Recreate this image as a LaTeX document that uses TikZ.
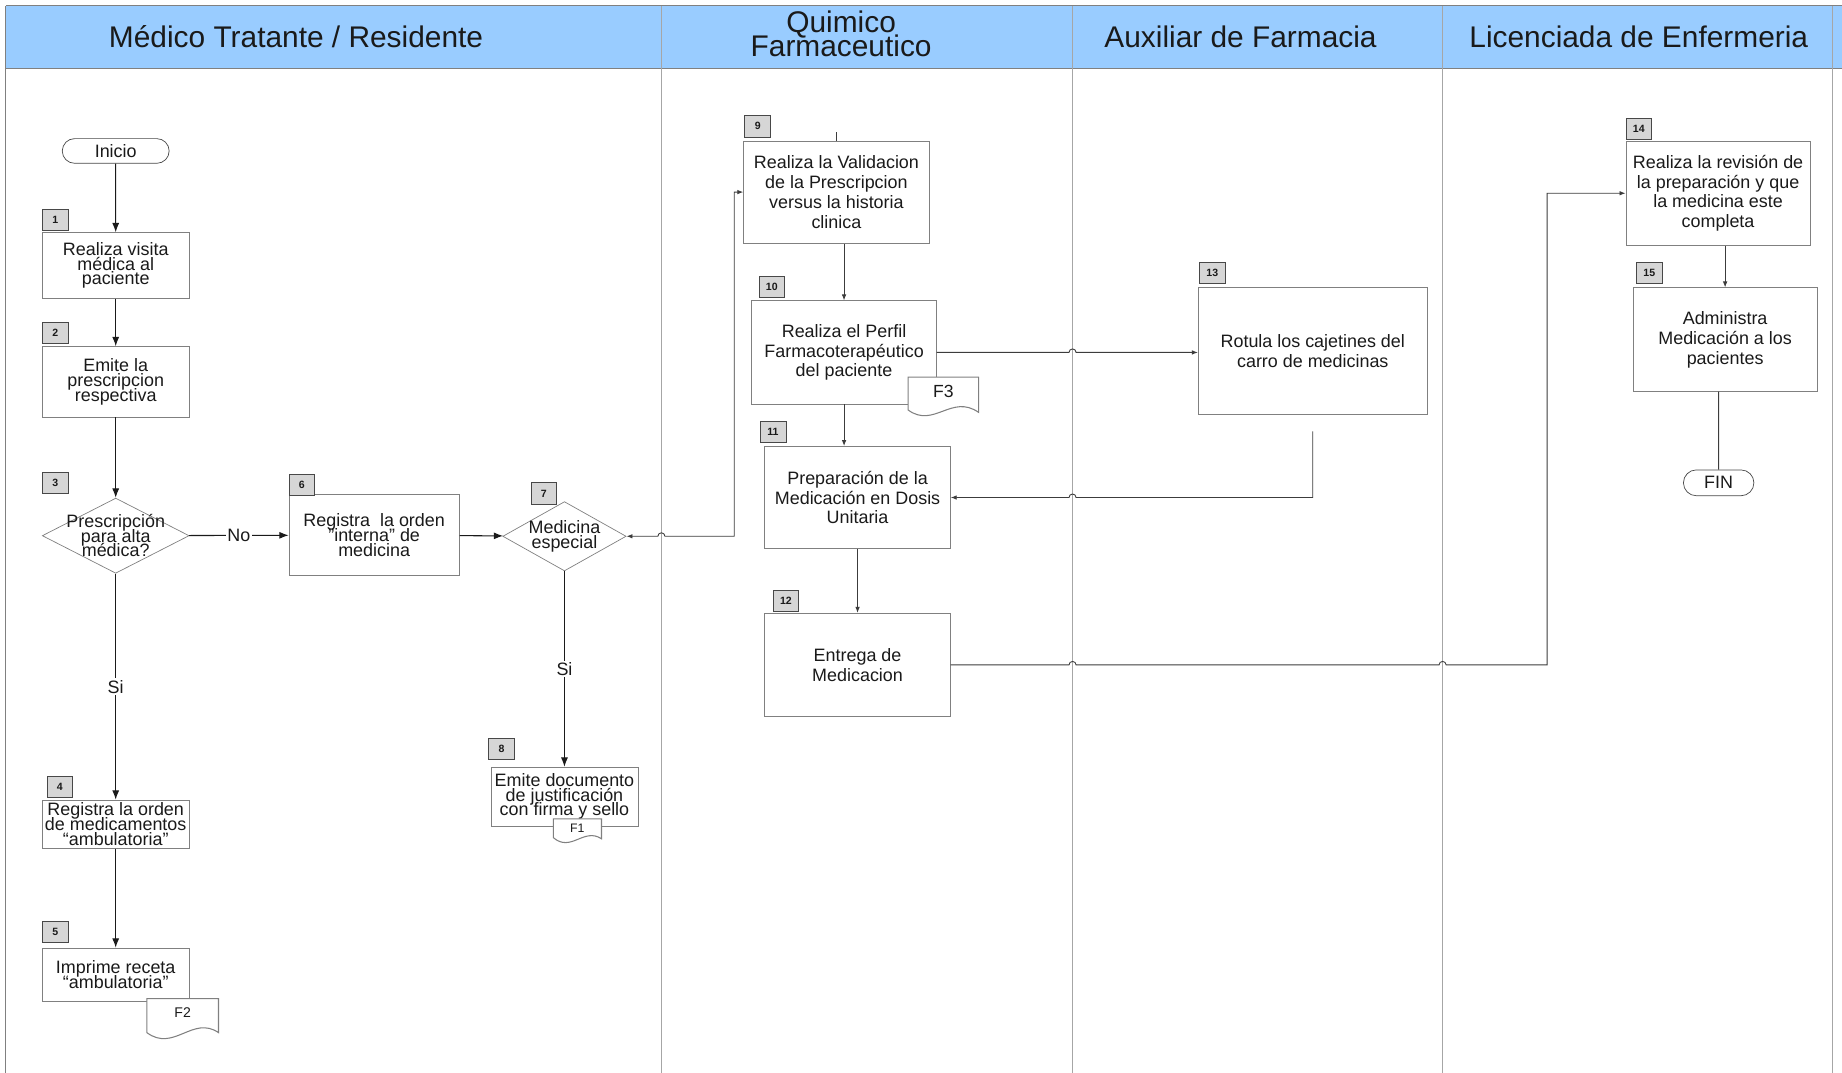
\documentclass[tikz,border=0pt]{standalone}
\usepackage{fontspec}
\setmainfont{Liberation Sans}
\usetikzlibrary{arrows.meta, shapes.geometric, shapes.misc, positioning}
\definecolor{lane-blue}{HTML}{99CCFF}
\definecolor{edge-gray}{HTML}{808080}
\definecolor{tag-gray}{HTML}{D6D6D6}
\definecolor{jet}{HTML}{1A1A1A}
\newlength{\pxu}
\setlength{\pxu}{0.023495cm}
\setlength{\lineskiplimit}{-20pt}

\begin{document}
\begin{tikzpicture}[x=0.023495cm, y=-0.023495cm,
    every node/.style={text=jet},
    lane title/.style={font=\fontsize{17}{13.6}\selectfont, align=center},
    stepbox/.style={draw=edge-gray, fill=white, align=center, inner sep=1pt,
      font=\fontsize{10.2}{11.3}\selectfont},
    tight/.style={font=\fontsize{10.2}{8.4}\selectfont},
    decision/.style={diamond, draw=edge-gray, fill=white, inner sep=0pt},
    tag/.style={draw=jet!80, fill=tag-gray, minimum width=22\pxu,
      minimum height=18\pxu, inner sep=0pt,
      font=\fontsize{6}{6}\selectfont\bfseries},
    terminal/.style={rounded rectangle, draw=jet!80, fill=white, inner sep=0pt,
      font=\fontsize{10.2}{11}\selectfont},
    edge label/.style={fill=white, inner sep=1pt, font=\fontsize{10.2}{11}\selectfont},
    flow/.style={draw=jet, line width=0.6pt, -{Latex[length=5.3pt, width=4pt]}},
    thin flow/.style={draw=jet!85, line width=0.5pt, -{Latex[length=3.4pt, width=2.6pt]}},
    lane line/.style={draw=edge-gray!70, line width=0.5pt},
    doc/.style={draw=edge-gray, fill=white, line width=0.6pt}]
  \useasboundingbox (0,0) rectangle (1568,913);

  % swimlanes
  \fill[lane-blue] (5,5) rectangle (1568,58);
  \draw[edge-gray, line width=0.6pt] (5,5) -- (1568,5);
  \draw[edge-gray, line width=0.6pt] (5,58) -- (1568,58);
  \draw[edge-gray, line width=0.6pt] (5,5) -- (5,913);
  \foreach \x in {563, 913, 1228, 1560}
    \draw[lane line] (\x,5) -- (\x,913);
  \node[lane title] (hMed) at (252,31) {Médico Tratante / Residente};
  \node[lane title] (hQF) at (716,29) {Quimico\\Farmaceutico};
  \node[lane title] (hAux) at (1056,31) {Auxiliar de Farmacia};
  \node[lane title] (hLic) at (1395,31) {Licenciada de Enfermeria};

  % Medico Tratante / Residente
  \node[terminal, minimum width=91\pxu, minimum height=21\pxu] (inicio) at (98.5,128.5) {Inicio};
  \node[stepbox, tight, minimum width=125\pxu, minimum height=56\pxu] (B1) at (98.5,226)
    {Realiza visita\\médica al\\paciente};
  \node[stepbox, tight, minimum width=125\pxu, minimum height=60\pxu] (B2) at (98.5,325)
    {Emite la\\prescripcion\\respectiva};
  \node[decision, minimum width=125\pxu, minimum height=64\pxu,
    label={[tight, align=center]center:{Prescripción\\para alta\\médica?}}] (D3) at (98.5,456) {};
  \node[stepbox, tight, minimum width=145\pxu, minimum height=69\pxu] (B6) at (318.5,455.5)
    {Registra\ \ la orden\\"interna" de\\medicina};
  \node[decision, minimum width=105\pxu, minimum height=59\pxu,
    label={[tight, align=center]center:{Medicina\\especial}}] (D7) at (480.5,456.5) {};
  \node[stepbox, tight, minimum width=125\pxu, minimum height=50\pxu] (B8) at (480.5,678)
    {Emite documento\\de justificación\\con firma y sello};
  \node[stepbox, tight, minimum width=125\pxu, minimum height=41\pxu] (B4) at (98.5,701.5)
    {Registra la orden\\de medicamentos\\“ambulatoria”};
  \node[stepbox, tight, minimum width=125\pxu, minimum height=45\pxu] (B5) at (98.5,829.5)
    {Imprime receta\\“ambulatoria”};

  % Quimico Farmaceutico
  \node[stepbox, minimum width=158\pxu, minimum height=87\pxu] (B9) at (712,163.5)
    {Realiza la Validacion\\de la Prescripcion\\versus la historia\\clinica};
  \node[stepbox, minimum width=157\pxu, minimum height=88\pxu] (B10) at (718.5,300)
    {Realiza el Perfil\\Farmacoterapéutico\\del paciente};
  \node[stepbox, minimum width=158\pxu, minimum height=87\pxu] (B11) at (730,423.5)
    {Preparación de la\\Medicación en Dosis\\Unitaria};
  \node[stepbox, minimum width=158\pxu, minimum height=88\pxu] (B12) at (730,566)
    {Entrega de\\Medicacion};

  % Auxiliar de Farmacia
  \node[stepbox, minimum width=195\pxu, minimum height=108\pxu] (B13) at (1117.5,299)
    {Rotula los cajetines del\\carro de medicinas};

  % Licenciada de Enfermeria
  \node[stepbox, minimum width=157\pxu, minimum height=89\pxu] (B14) at (1462.5,164.5)
    {Realiza la revisión de\\la preparación y que\\la medicina este\\completa};
  \node[stepbox, minimum width=157\pxu, minimum height=88\pxu] (B15) at (1468.5,289)
    {Administra\\Medicación a los\\pacientes};
  \node[terminal, minimum width=60\pxu, minimum height=22\pxu] (fin) at (1463,411) {FIN};

  % step numbers
  \node[tag] (t1) at (47,187) {1};
  \node[tag] (t2) at (47,283.5) {2};
  \node[tag] (t3) at (47,411) {3};
  \node[tag] (t4) at (51,669.5) {4};
  \node[tag] (t5) at (47,793) {5};
  \node[tag] (t6) at (257,412.5) {6};
  \node[tag] (t7) at (463,420) {7};
  \node[tag] (t8) at (427,637.5) {8};
  \node[tag] (t9) at (645,107.5) {9};
  \node[tag] (t10) at (657,244.5) {10};
  \node[tag] (t11) at (658,367.5) {11};
  \node[tag] (t12) at (669,511.5) {12};
  \node[tag] (t13) at (1032,232.5) {13};
  \node[tag] (t14) at (1395,109.5) {14};
  \node[tag] (t15) at (1404,232.5) {15};

  % connectors (small hops where they cross a lane)
  \draw[flow] (inicio) -- (B1);
  \draw[flow] (B1) -- (B2);
  \draw[flow] (B2) -- (D3);
  \draw[flow] (D3) -- node[edge label] {No} (B6);
  \draw[flow] (D3) -- node[edge label] {Si} (B4);
  \draw[flow] (B4) -- (B5);
  \draw[flow] (B6) -- (D7);
  \draw[flow] (D7) -- node[edge label] {Si} (B8);
  \draw[thin flow, {Latex[length=3.4pt, width=2.6pt]}-{Latex[length=3.4pt, width=2.6pt]}]
    (D7.east) -- (560,456.5) arc[start angle=180, end angle=360, radius=3]
    -- (625,456.5) |- (B9.west);
  \draw[jet!85, line width=0.5pt] (B9.north) -- ++(0,-7);
  \draw[thin flow] (B10.north |- B9.south) -- (B10.north);
  \draw[thin flow] (B10.east) -- (910,300) arc[start angle=180, end angle=360, radius=3]
    -- (B10.east -| B13.west);
  \draw[thin flow] (B10.south) -- (B10.south |- B11.north);
  \draw[thin flow] ([yshift=-14\pxu]B13.south) -- (B13.south |- B11.east)
    -- (916,423.5) arc[start angle=0, end angle=-180, radius=3] -- (B11.east);
  \draw[thin flow] (B11) -- (B12);
  \draw[thin flow] (B12.east) -- (910,566) arc[start angle=180, end angle=360, radius=3]
    -- (1225,566) arc[start angle=180, end angle=360, radius=3]
    -- (1317,566) |- (B14.west);
  \draw[thin flow] (B15.north |- B14.south) -- (B15.north);
  \draw[jet!85, line width=0.5pt] (fin |- B15.south) -- (fin);

  % documents
  \draw[doc] (471,697) -- (512,697) -- (512,714)
    .. controls (497,704) and (486,726) .. (471,713) -- cycle;
  \node[font=\fontsize{7}{8}\selectfont] (f1) at (491.5,705) {F1};
  \draw[doc] (125,850) -- (186,850) -- (186,879)
    .. controls (164,864) and (148,896) .. (125,879) -- cycle;
  \node[font=\fontsize{8}{9}\selectfont] (f2) at (155.5,862) {F2};
  \draw[doc] (773,321) -- (833,321) -- (833,351)
    .. controls (810,335) and (795,365) .. (773,349) -- cycle;
  \node[font=\fontsize{10}{11}\selectfont] (f3) at (803,333) {F3};
\end{tikzpicture}
\end{document}
